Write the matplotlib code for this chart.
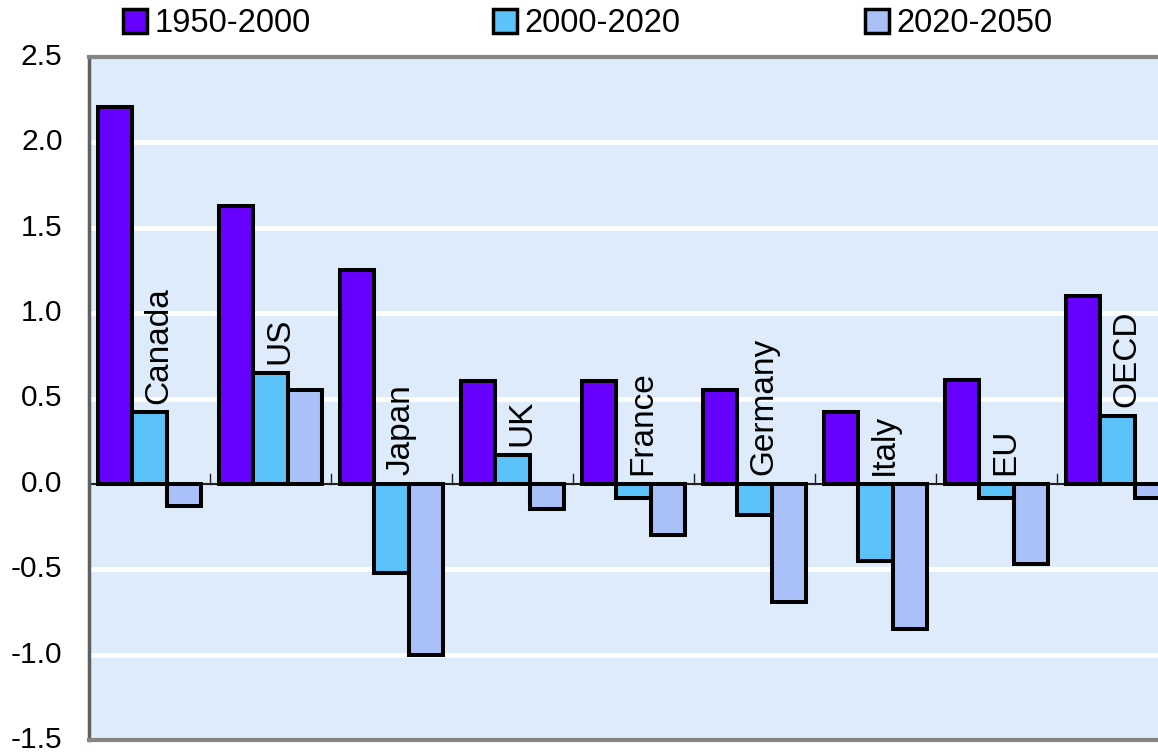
import matplotlib
matplotlib.use("Agg")
import matplotlib.pyplot as plt
from matplotlib.patches import Patch
from matplotlib.transforms import ScaledTranslation
import numpy as np

plt.rcParams['font.family'] = ['Liberation Sans', 'DejaVu Sans']

categories = ["Canada", "US", "Japan", "UK", "France", "Germany", "Italy", "EU", "OECD"]
series_names = ["1950-2000", "2000-2020", "2020-2050"]
v_1950_2000 = [2.21, 1.63, 1.25, 0.60, 0.60, 0.55, 0.42, 0.61, 1.10]
v_2000_2020 = [0.42, 0.65, -0.52, 0.17, -0.08, -0.18, -0.45, -0.08, 0.40]
v_2020_2050 = [-0.13, 0.55, -1.00, -0.15, -0.30, -0.69, -0.85, -0.47, -0.08]
yticks = [-1.5, -1.0, -0.5, 0.0, 0.5, 1.0, 1.5, 2.0, 2.5]

colors = ["#6600FF", "#5CC3FA", "#A9C0F8"]
bg = "#DDEBFB"

W, H = 1158, 752
fig = plt.figure(figsize=(W / 100, H / 100), dpi=100)
fig.patch.set_facecolor("white")
left, right, top, bottom = 89, 1178, 57, 740
ax = fig.add_axes([left / W, (H - bottom) / H, (right - left) / W, (bottom - top) / H])
ax.set_facecolor(bg)

x = np.arange(len(categories))
bw = 0.281
series = [v_1950_2000, v_2000_2020, v_2020_2050]
for k, (vals, c) in enumerate(zip(series, colors)):
    ax.bar(x + (k - 1) * bw, vals, width=bw, color=c, edgecolor="black",
           linewidth=2.9, zorder=3)

ax.set_xlim(-0.5, len(categories) - 0.5)
ax.set_ylim(-1.5, 2.5)
ax.set_yticks(yticks)
ax.set_yticklabels([f"{t:.1f}" for t in yticks])
ax.tick_params(axis="y", length=0, pad=19, labelsize=21.5)
ax.set_xticks([])
shift = ScaledTranslation(0, 3 / 100, fig.dpi_scale_trans)
for lbl in ax.get_yticklabels():
    lbl.set_transform(lbl.get_transform() + shift)

for t in yticks:
    if t not in (0.0, -1.5, 2.5):
        ax.axhline(t, color="white", linewidth=3.5, zorder=1)
ax.axhline(0, color="#202020", linewidth=1.5, zorder=2)
for b in x[:-1] + 0.5:
    ax.plot([b, b], [0, 0.055], color="#202020", linewidth=1.0, zorder=2)

for i, cat in enumerate(categories):
    base = max(v_2000_2020[i], 0.0) + 0.05
    ax.text(i + 0.075, base, cat, rotation=90, ha="center", va="bottom",
            fontsize=24, color="black", zorder=4)

for side in ["top", "bottom"]:
    ax.spines[side].set_color("#858585")
    ax.spines[side].set_linewidth(3)
ax.spines["left"].set_color("#606060")
ax.spines["left"].set_linewidth(2.5)
ax.spines["right"].set_visible(False)

leg_x = [123, 493, 865]
for name, c, lx in zip(series_names, colors, leg_x):
    h = Patch(facecolor=c, edgecolor="black", linewidth=2.5)
    fig.legend(handles=[h], labels=[name], loc="center left",
               bbox_to_anchor=(lx / W, 1 - 24 / H), frameon=False,
               fontsize=23.5, handlelength=0.72, handleheight=0.72,
               handletextpad=0.25, borderpad=0, borderaxespad=0)

fig.savefig("out.png", dpi=100)
